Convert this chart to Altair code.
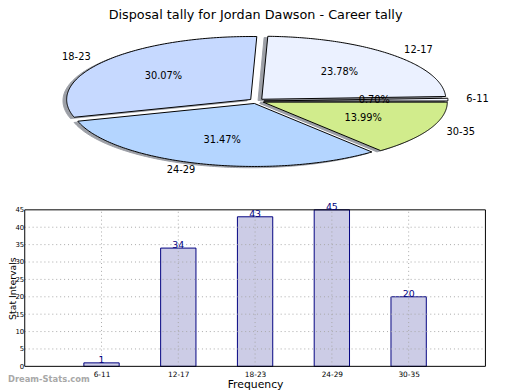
import altair as alt
import pandas as pd

title_text = "Disposal tally for Jordan Dawson - Career tally"
categories = ["6-11", "12-17", "18-23", "24-29", "30-35"]
counts = [1, 34, 43, 45, 20]
slice_colors = ["#f2f5ff", "#ebf1ff", "#c6d9ff", "#b4d5ff", "#d1ec8c"]
y_ticks = [0, 5, 10, 15, 20, 25, 30, 35, 40, 45]
y_grid = [5, 10, 15, 20, 25, 30, 35, 40]
x_limits = [0, 6]
y_limits = [0, 45]
watermark = "Dream-Stats.com"
y_title = "Stat Intervals"
x_title = "Frequency"

W, H = 512, 382
FONT = "DejaVu Sans"
N = 120
EXPLODE = 0.04
BAR_HALF = 0.23

df = pd.DataFrame({"cat": categories, "value": counts})

# ---------- pie (elliptical, matplotlib-like) ----------
CX, CY, RX, RY = 252.5, 91.5, 187, 64
pie_x = alt.Scale(domain=[-1, 1], range=[CX - RX, CX + RX], nice=False, zero=False)
pie_y = alt.Scale(domain=[-1, 1], range=[CY + RY, CY - RY], nice=False, zero=False)

pie_base = (
    alt.Chart(df)
    .transform_joinaggregate(total="sum(value)")
    .transform_window(cum="sum(value)", frame=[None, 0])
    .transform_calculate(
        a0="2*PI*(datum.cum - datum.value)/datum.total",
        a1="2*PI*datum.cum/datum.total",
    )
    .transform_calculate(
        mid="(datum.a0 + datum.a1)/2",
        pct="format(100*datum.value/datum.total, '.2f') + '%'",
    )
    .transform_calculate(
        ex=f"{EXPLODE}*cos(datum.mid)",
        ey=f"{EXPLODE}*sin(datum.mid)",
    )
)

wedge_pts = (
    pie_base.transform_calculate(step=f"sequence(0, {N + 3})")
    .transform_flatten(["step"])
    .transform_calculate(
        apex=f"datum.step == 0 || datum.step == {N + 2}",
        ang=f"datum.a0 + (datum.a1 - datum.a0) * (datum.step - 1) / {N}",
    )
    .transform_calculate(
        px="datum.ex + (datum.apex ? 0 : cos(datum.ang))",
        py="datum.ey + (datum.apex ? 0 : sin(datum.ang))",
    )
    .transform_calculate(sx="datum.px - 0.02", sy="datum.py - 0.02")
)

shadows = wedge_pts.mark_line(
    fill="#3c4250", stroke="#3c4250", strokeWidth=1, opacity=0.5, interpolate="linear"
).encode(
    x=alt.X("sx:Q", scale=pie_x, axis=None),
    y=alt.Y("sy:Q", scale=pie_y, axis=None),
    detail="cat:N",
    order="step:Q",
)

wedges = wedge_pts.mark_line(stroke="black", strokeWidth=1, interpolate="linear").encode(
    x=alt.X("px:Q", scale=pie_x, axis=None),
    y=alt.Y("py:Q", scale=pie_y, axis=None),
    fill=alt.Fill("cat:N", scale=alt.Scale(domain=categories, range=slice_colors), legend=None),
    detail="cat:N",
    order="step:Q",
)

lab_base = pie_base.transform_calculate(
    lx="datum.ex + 1.1*cos(datum.mid)",
    ly="datum.ey + 1.1*sin(datum.mid)",
    qx="datum.ex + 0.6*cos(datum.mid)",
    qy="datum.ey + 0.6*sin(datum.mid)",
)
text_style = dict(font=FONT, fontSize=10, color="black", baseline="middle")
labels_r = lab_base.transform_filter("cos(datum.mid) >= 0").mark_text(align="left", **text_style).encode(
    x=alt.X("lx:Q", scale=pie_x, axis=None), y=alt.Y("ly:Q", scale=pie_y, axis=None), text="cat:N"
)
labels_l = lab_base.transform_filter("cos(datum.mid) < 0").mark_text(align="right", **text_style).encode(
    x=alt.X("lx:Q", scale=pie_x, axis=None), y=alt.Y("ly:Q", scale=pie_y, axis=None), text="cat:N"
)
pcts = lab_base.mark_text(align="center", **text_style).encode(
    x=alt.X("qx:Q", scale=pie_x, axis=None), y=alt.Y("qy:Q", scale=pie_y, axis=None), text="pct:N"
)

pie = alt.layer(shadows, wedges, labels_r, labels_l, pcts)

# ---------- bar chart ----------
BX0, BX1, BY0, BY1 = 17, 485, 361, 202
bx = alt.Scale(domain=x_limits, range=[BX0, BX1], nice=False, zero=False)
by = alt.Scale(domain=y_limits, range=[BY0, BY1], nice=False, zero=False)

label_expr = "[" + ",".join("'" + c + "'" for c in [""] + categories) + "][datum.value]"

x_axis = alt.Axis(
    orient="bottom", offset=-(H - BY0), values=list(range(1, len(categories) + 1)),
    labelExpr=label_expr, domain=False, ticks=False, grid=False,
    labelFont=FONT, labelFontSize=7.5, labelColor="black", labelPadding=4,
    title=x_title, titleFont=FONT, titleFontSize=11, titleFontWeight="normal",
    titleColor="black", titlePadding=1,
)
y_axis = alt.Axis(
    orient="left", offset=-BX0, values=y_ticks, domain=False, ticks=False, grid=False,
    labelFont=FONT, labelFontSize=7, labelColor="black", labelPadding=1,
    title=y_title, titleFont=FONT, titleFontSize=9.5, titleFontWeight="normal",
    titleColor="black", titleX=-9.5, titleBaseline="alphabetic", titleAngle=270,
)

bar_base = (
    alt.Chart(df)
    .transform_window(pos="row_number()")
    .transform_calculate(
        x0=f"datum.pos - {BAR_HALF}",
        x1=f"datum.pos + {BAR_HALF}",
        zero=f"{y_limits[0]}",
        top=f"{y_limits[1]}",
    )
)

bars_rect = bar_base.mark_rect(fill="#ccccE6", stroke="#000080", strokeWidth=1).encode(
    x=alt.X("x0:Q", scale=bx, axis=x_axis),
    x2="x1:Q",
    y=alt.Y("value:Q", scale=by, axis=y_axis),
    y2="zero:Q",
)

grid_style = dict(stroke="#a8a8a8", strokeWidth=1, strokeDash=[1, 3])
ygrid = (
    alt.Chart(pd.DataFrame({"g": y_grid}))
    .transform_calculate(xa=f"{x_limits[0]}", xb=f"{x_limits[1]}")
    .mark_rule(**grid_style)
    .encode(
        y=alt.Y("g:Q", scale=by, axis=y_axis),
        x=alt.X("xa:Q", scale=bx, axis=x_axis),
        x2="xb:Q",
    )
)
xgrid = bar_base.mark_rule(**grid_style).encode(
    x=alt.X("pos:Q", scale=bx, axis=x_axis),
    y=alt.Y("zero:Q", scale=by, axis=y_axis),
    y2="top:Q",
)

frame = (
    alt.Chart(pd.DataFrame({"xa": [x_limits[0]], "xb": [x_limits[1]], "ya": [y_limits[0]], "yb": [y_limits[1]]}))
    .mark_rect(fillOpacity=0, stroke="black", strokeWidth=1)
    .encode(
        x=alt.X("xa:Q", scale=bx, axis=x_axis),
        x2="xb:Q",
        y=alt.Y("ya:Q", scale=by, axis=y_axis),
        y2="yb:Q",
    )
)

value_labels = bar_base.mark_text(
    align="center", baseline="alphabetic", font=FONT, fontSize=9.5, color="#000080"
).encode(
    x=alt.X("pos:Q", scale=bx, axis=x_axis),
    y=alt.Y("value:Q", scale=by, axis=y_axis),
    text="value:Q",
)

bars = alt.layer(bars_rect, ygrid, xgrid, frame, value_labels)

wm = alt.Chart(pd.DataFrame({"t": [watermark]})).mark_text(
    align="left", baseline="alphabetic", font=FONT, fontSize=8.5, fontWeight="bold", color="#a8a8a8"
).encode(x=alt.value(0), y=alt.value(377), text="t:N")

chart = (
    alt.layer(pie, bars, wm)
    .resolve_scale(x="independent", y="independent")
    .properties(
        width=W,
        height=H,
        padding=0,
        autosize=alt.AutoSizeParams(type="none"),
        title=alt.TitleParams(
            text=title_text, font=FONT, fontSize=13, fontWeight="normal", color="black",
            anchor="middle", frame="group", offset=0, baseline="alphabetic", dy=21, dx=-4.5,
        ),
    )
    .configure_view(stroke=None)
)

chart.save("out.html", embed_options={"renderer": "svg", "actions": False})
